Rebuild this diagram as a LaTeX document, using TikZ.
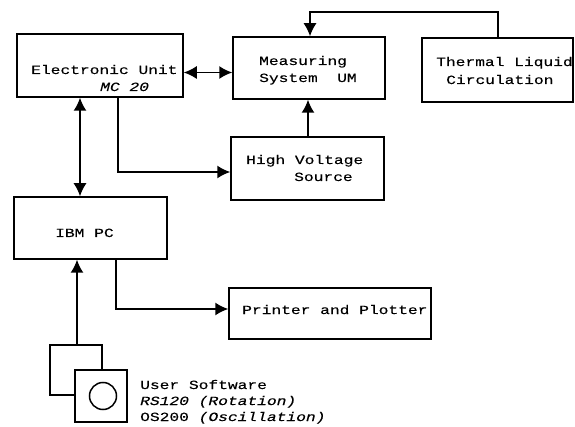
\documentclass[tikz,border=0pt]{standalone}
\usepackage{fontspec}
\setmainfont[FakeStretch=1.3,FakeBold=0.25]{Liberation Mono}
\usetikzlibrary{arrows.meta,calc}
\tikzset{
  blk/.style={draw=black,line width=1.5pt,fill=white,inner sep=0pt},
  txt/.style={inner sep=0pt,anchor=base west,font=\fontsize{12.5}{15}\selectfont},
  itx/.style={txt,font=\fontsize{12.5}{15}\selectfont\itshape},
  conn/.style={line width=1.5pt,-{Latex[length=13pt,width=13pt]}},
  both/.style={line width=1.5pt,{Latex[length=13pt,width=13pt]}-{Latex[length=13pt,width=13pt]}}
}
\newcommand{\blk}[5]{\node[blk,minimum width=#4pt-#2pt,minimum height=#5pt-#3pt] (#1) at ({(#2+#4)/2},{(#3+#5)/2}) {};}
\begin{document}
\begin{tikzpicture}[x=1pt,y=-1pt]
\useasboundingbox (0,0) rectangle (575,427);
\blk{eu}{17}{34}{183}{97}
\blk{ms}{233}{37}{385}{99}
\blk{th}{422}{38}{573}{102}
\blk{hv}{231}{137}{384}{200}
\blk{pc}{14}{197}{167}{259}
\blk{pp}{229}{288}{431}{339}
\blk{disk}{50}{345}{102}{395}
\blk{front}{75}{370}{127}{422}
\node[draw,line width=1.5pt,circle,minimum size=27pt,inner sep=0pt] (hole) at (103,396) {};
\node[txt] (t1) at (31,74) {Electronic Unit};
\node[itx] (t2) at (100,91) {MC 20};
\node[txt] (t3) at (259,65) {Measuring};
\node[txt] (t4) at (259,82) {System\ \ UM};
\node[txt] (t5) at (436,66) {Thermal Liquid};
\node[txt] (t6) at (446,84) {Circulation};
\node[txt] (t7) at (246,164) {High Voltage};
\node[txt] (t8) at (294,181) {Source};
\node[txt] (t9) at (55,237) {IBM PC};
\node[txt] (t10) at (242,314) {Printer and Plotter};
\node[txt] (t11) at (140,389) {User Software};
\node[txt] (t12) at (140,405) {\textit{RS120} \textit{(Rotation)}};
\node[txt] (t13) at (140,421) {OS200 \textit{(Oscillation)}};
\coordinate (a) at (eu.east|-0,72.5);
\coordinate (b) at (ms.west|-0,72.5);
\draw[both] (a) -- (b);
\draw[both] (eu.south-|80,0) -- (pc.north-|80,0);
\draw[conn] (eu.south-|118,0) |- (hv.west|-0,172);
\draw[conn] (hv.north-|308,0) -- (ms.south-|308,0);
\draw[conn] (th.north-|498,0) -- (498,12) -- (310,12) -- (ms.north-|310,0);
\draw[conn] (pc.south-|116,0) |- (pp.west|-0,309);
\draw[conn] (disk.north-|77,0) -- (pc.south-|77,0);
\end{tikzpicture}
\end{document}
